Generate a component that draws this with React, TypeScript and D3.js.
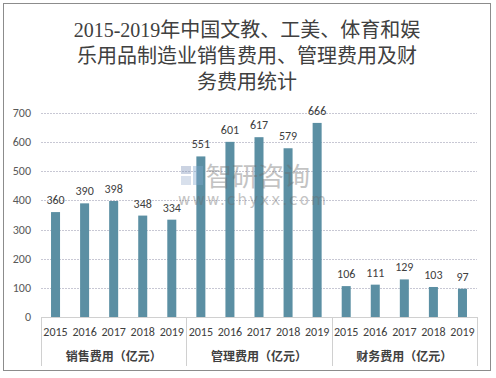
import React from "react";
import * as d3 from "d3";

const groups = ["销售费用（亿元）", "管理费用（亿元）", "财务费用（亿元）"];
const years = ["2015", "2016", "2017", "2018", "2019"];
const salesValues = [360, 390, 398, 348, 334];
const adminValues = [551, 601, 617, 579, 666];
const financeValues = [106, 111, 129, 103, 97];
const yTicks = [0, 100, 200, 300, 400, 500, 600, 700];
const titleLines = [
  "2015-2019年中国文教、工美、体育和娱",
  "乐用品制造业销售费用、管理费用及财",
  "务费用统计",
];

const seriesByGroup = [salesValues, adminValues, financeValues];
const rows = groups.flatMap((g, gi) =>
  years.map((yr, yi) => ({ key: `${gi}-${yr}`, group: g, gi, year: yr, value: seriesByGroup[gi][yi] }))
);

export default function App() {
  const W = 496, H = 378;
  const left = 41, right = 477, top = 113, bottom = 317;
  const x = d3.scaleBand<string>().domain(rows.map((r) => r.key)).range([left, right]).paddingInner(0.69).paddingOuter(0.345);
  const y = d3.scaleLinear().domain([0, 700]).range([bottom, top]);
  const band = (right - left) / rows.length;
  const font = "'Noto Sans CJK SC', 'Noto Sans', sans-serif";
  const titleFont = "'Liberation Serif', 'Noto Sans CJK SC', serif";
  const labelFont = "Calibri, 'Carlito', 'Liberation Sans', 'Noto Sans', sans-serif";

  return (
    <svg width={W} height={H} style={{ position: "absolute", left: 0, top: 0 }}>
      <rect x={0} y={0} width={W} height={H} fill="#fff" />
      <rect x={3.5} y={3.5} width={487} height={367} fill="#fff" stroke="#8c8c8c" strokeWidth={1} />
      {titleLines.map((t, i) => (
        <text key={i} x={247} y={36.5 + i * 26.3} textAnchor="middle" fontFamily={titleFont} fontSize={20} fill="#404040" fontWeight={400}>
          {t}
        </text>
      ))}
      {yTicks.map((t) => (
        <g key={t}>
          {t > 0 && (
            <line x1={left} x2={right} y1={Math.round(y(t)) + 0.5} y2={Math.round(y(t)) + 0.5} stroke="#c8c8d4" strokeDasharray="2,1" />
          )}
          <text x={31} y={y(t) + 4} textAnchor="end" fontFamily={labelFont} fontSize={12} fill="#595959">
            {t}
          </text>
        </g>
      ))}
      {rows.map((r) => (
        <g key={r.key}>
          <rect x={x(r.key)} y={y(r.value)} width={x.bandwidth()} height={bottom - y(r.value)} fill="#5b8fa3" />
          <text x={(x(r.key) as number) + x.bandwidth() / 2} y={y(r.value) - 8} textAnchor="middle" fontFamily={labelFont} fontSize={12} fill="#404040">
            {r.value}
          </text>
          <text x={(x(r.key) as number) + x.bandwidth() / 2} y={336} textAnchor="middle" fontFamily={labelFont} fontSize={12} fill="#404040">
            {r.year}
          </text>
        </g>
      ))}
      {/* watermark */}
      <g opacity={0.4}>
        <rect x={181} y={166} width={10} height={8} fill="#7f94b8" />
        <rect x={181} y={176} width={10} height={9} fill="#9fb4d2" />
        <rect x={193} y={166} width={10} height={19} fill="#7fa8cf" />
        <text x={206} y={186} fontFamily={font} fontSize={26} fill="#6b6b6b">智研咨询</text>
        <text x={178} y={205} fontFamily="'DejaVu Sans', sans-serif" fontSize={15} fill="#6b6b6b" letterSpacing={2.2}>www.chyxx.com</text>
      </g>
      <line x1={left} x2={right} y1={317.5} y2={317.5} stroke="#d0d0d0" />
      {[0, 5, 10, 15].map((i) => (
        <line key={i} x1={Math.round(left + i * band) + 0.5} x2={Math.round(left + i * band) + 0.5} y1={317} y2={366} stroke="#d0d0d0" />
      ))}
      {groups.map((g, gi) => (
        <text key={g} x={left + (gi * 5 + 2.5) * band} y={361} textAnchor="middle" fontFamily={font} fontSize={12} fill="#404040" fontWeight={700}>
          {g}
        </text>
      ))}
    </svg>
  );
}
